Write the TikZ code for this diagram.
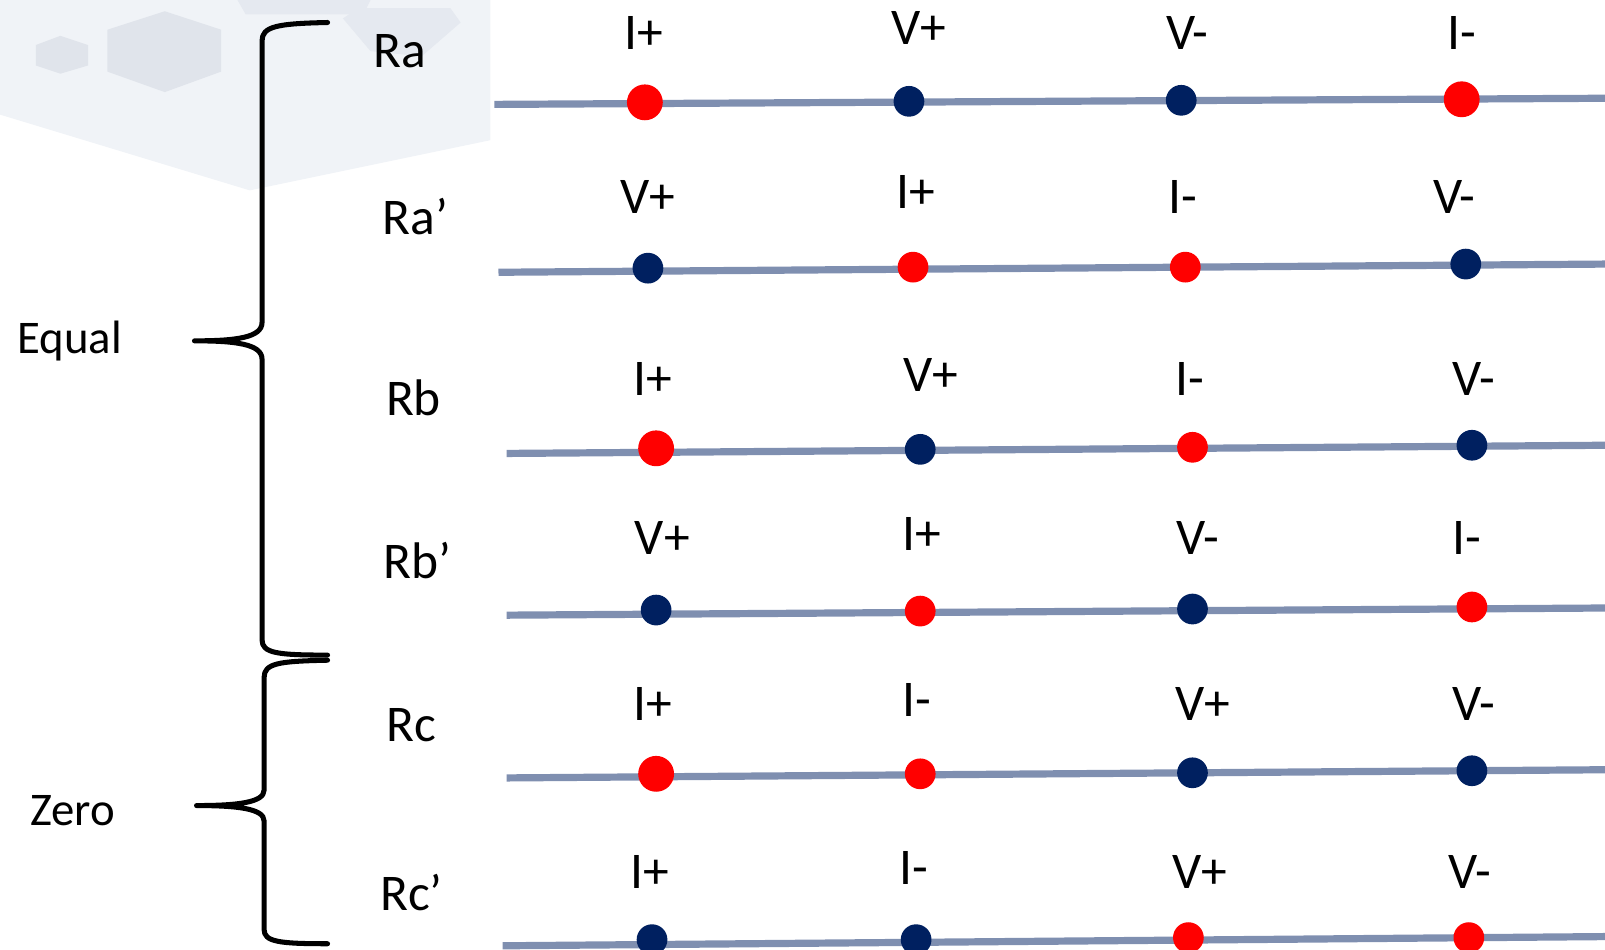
\documentclass[tikz,border=0pt]{standalone}
\usepackage{fontspec}
\setmainfont{Carlito}
\definecolor{linec}{RGB}{127,143,176}
\definecolor{navy}{RGB}{0,32,96}
\definecolor{pale}{RGB}{240,243,247}
\definecolor{hexc}{RGB}{224,228,235}
\definecolor{hexd}{RGB}{229,233,240}
\tikzset{
  wire/.style={draw=linec, line width=2pt},
  reddot/.style={circle, fill=red, inner sep=0pt, minimum size=0.30cm},
  bigred/.style={circle, fill=red, inner sep=0pt, minimum size=0.35cm},
  bluedot/.style={circle, fill=navy, inner sep=0pt, minimum size=0.30cm},
  lbl/.style={inner sep=0pt, font=\fontsize{14.3pt}{16pt}\selectfont},
  glbl/.style={inner sep=0pt, font=\fontsize{13pt}{15pt}\selectfont},
  bracec/.style={draw=black, line width=1.4pt, line cap=round, line join=round}
}
\begin{document}
\begin{tikzpicture}[x=0.01cm,y=-0.01cm]
\useasboundingbox (0,0) rectangle (1568,928);
% background
\fill[pale] (0,0) -- (479,0) -- (479,137) -- (244,186) -- (0,112) -- cycle;
\fill[hexc] (105,29) -- (161,11) -- (216,29) -- (216,70) -- (161,90) -- (105,70) -- cycle;
\fill[hexc] (35,44) -- (59,35) -- (86,44) -- (86,64) -- (59,72) -- (35,64) -- cycle;
\fill[hexd] (232,0) -- (362,0) -- (355,14) -- (240,14) -- cycle;
\fill[hexd] (335,18) -- (350,8) -- (440,8) -- (450,22) -- (412,55) -- (362,50) -- cycle;

% braces
\draw[bracec] (320,22) .. controls (270,23) and (256,26) .. (256,40) -- (256,315)
  .. controls (256,330) and (230,333) .. (190,333)
  .. controls (230,333) and (256,336) .. (256,351) -- (256,625)
  .. controls (256,638) and (270,640) .. (320,640);
\draw[bracec] (320,645) .. controls (272,646) and (258,648) .. (258,662) -- (258,772)
  .. controls (258,784) and (232,787) .. (192,787)
  .. controls (232,787) and (258,790) .. (258,802) -- (258,908)
  .. controls (258,920) and (272,922) .. (320,922);

% group labels
\node[glbl] (equal) at (68,333) {Equal};
\node[glbl] (zero) at (71,792) {Zero};

% row labels
\node[lbl] (nRa) at (391,50) {Ra};
\node[lbl] (nRap) at (406,212) {Ra’};
\node[lbl] (nRb) at (404,389) {Rb};
\node[lbl] (nRbp) at (408,548) {Rb’};
\node[lbl] (nRc) at (402,708) {Rc};
\node[lbl] (nRcp) at (402,872) {Rc’};

% Row Ra
\coordinate (a0) at (483,102); \coordinate (a5) at (1568,96);
\draw[wire] (a0) -- (a5);
\node[bigred] (a1) at (630,100) {};
\node[bluedot] (a2) at (888,99) {};
\node[bluedot] (a3) at (1154,98) {};
\node[bigred] (a4) at (1428,97) {};
\node[lbl] (la1) at (629,32) {I+};
\node[lbl] (la2) at (898,27) {V+};
\node[lbl] (la3) at (1160,32) {V-};
\node[lbl] (la4) at (1428,32) {I-};

% Row Ra'
\coordinate (b0) at (487,266); \coordinate (b5) at (1568,258);
\draw[wire] (b0) -- (b5);
\node[bluedot] (b1) at (633,262) {};
\node[reddot] (b2) at (892,261) {};
\node[reddot] (b3) at (1158,261) {};
\node[bluedot] (b4) at (1432,258) {};
\node[lbl] (lb1) at (633,192) {V+};
\node[lbl] (lb2) at (895,188) {I+};
\node[lbl] (lb3) at (1156,192) {I-};
\node[lbl] (lb4) at (1421,192) {V-};

% Row Rb
\coordinate (c0) at (495,443); \coordinate (c5) at (1568,435);
\draw[wire] (c0) -- (c5);
\node[bigred] (c1) at (641,438) {};
\node[bluedot] (c2) at (899,439) {};
\node[reddot] (c3) at (1165,437) {};
\node[bluedot] (c4) at (1438,435) {};
\node[lbl] (lc1) at (638,370) {I+};
\node[lbl] (lc2) at (909,366) {V+};
\node[lbl] (lc3) at (1162,370) {I-};
\node[lbl] (lc4) at (1440,370) {V-};

% Row Rb'
\coordinate (d0) at (495,601); \coordinate (d5) at (1568,594);
\draw[wire] (d0) -- (d5);
\node[bluedot] (d1) at (641,596) {};
\node[reddot] (d2) at (899,597) {};
\node[bluedot] (d3) at (1165,595) {};
\node[reddot] (d4) at (1438,593) {};
\node[lbl] (ld1) at (647,526) {V+};
\node[lbl] (ld2) at (901,522) {I+};
\node[lbl] (ld3) at (1170,526) {V-};
\node[lbl] (ld4) at (1433,526) {I-};

% Row Rc
\coordinate (e0) at (495,760); \coordinate (e5) at (1568,752);
\draw[wire] (e0) -- (e5);
\node[bigred] (e1) at (641,756) {};
\node[reddot] (e2) at (899,756) {};
\node[bluedot] (e3) at (1165,755) {};
\node[bluedot] (e4) at (1438,753) {};
\node[lbl] (le1) at (638,688) {I+};
\node[lbl] (le2) at (896,684) {I-};
\node[lbl] (le3) at (1175,688) {V+};
\node[lbl] (le4) at (1440,688) {V-};

% Row Rc'
\coordinate (f0) at (491,924); \coordinate (f5) at (1568,915);
\draw[wire] (f0) -- (f5);
\node[bluedot] (f1) at (637,918) {};
\node[bluedot] (f2) at (895,918) {};
\node[reddot] (f3) at (1161,916) {};
\node[reddot] (f4) at (1435,916) {};
\node[lbl] (lf1) at (635,852) {I+};
\node[lbl] (lf2) at (893,848) {I-};
\node[lbl] (lf3) at (1172,852) {V+};
\node[lbl] (lf4) at (1436,852) {V-};
\end{tikzpicture}
\end{document}
